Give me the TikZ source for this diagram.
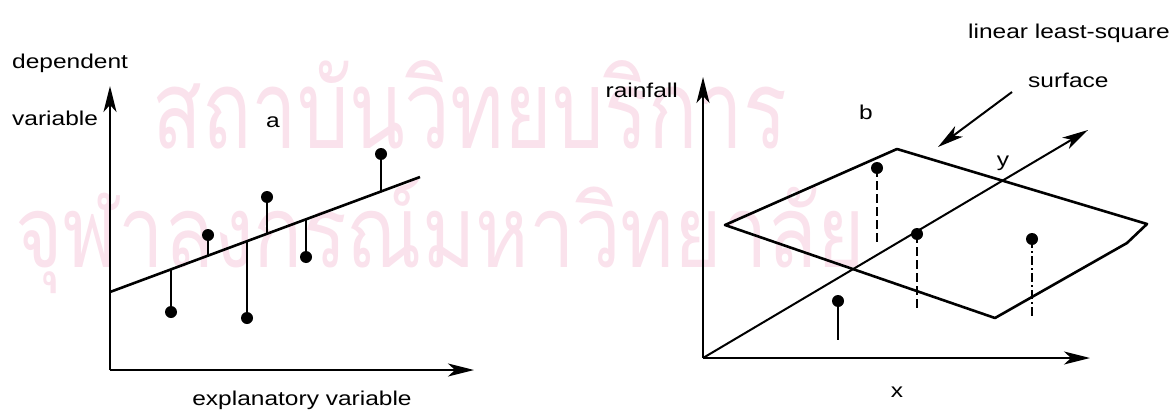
\documentclass[tikz,border=0pt]{standalone}
\usepackage{fontspec}
\setmainfont{Liberation Sans}
\newfontfamily\thaifont[Script=Thai]{Loma}
\usetikzlibrary{arrows.meta,calc}
\definecolor{wmpink}{RGB}{250,226,236}
\newcommand{\wide}[1]{\scalebox{1.225}[1]{#1}}
\begin{document}
\begin{tikzpicture}[x=1pt,y=-1pt,
  lbl/.style={inner sep=0pt, font=\fontsize{20}{24}\selectfont},
  dot/.style={circle,fill=black,inner sep=0pt,minimum size=12pt},
  axis/.style={line width=2pt,-{Stealth[length=26pt,width=13pt,inset=7pt]}},
  fitline/.style={line width=2.6pt},
  stem/.style={line width=1.8pt},
  dstem/.style={line width=1.8pt,dash pattern=on 9pt off 4pt},
  ddstem/.style={line width=1.8pt,dash pattern=on 9pt off 3pt on 2pt off 3pt},
  wm/.style={text=wmpink, inner sep=0pt, font=\thaifont\fontsize{100}{120}\selectfont}
]
\useasboundingbox (0,0) rectangle (1172,412);
% watermark
\node[wm, anchor=base west] (wm1) at (152,148) {\resizebox{635pt}{88pt}{สถาบันวิทยบริการ}};
\node[wm, anchor=base west] (wm2) at (15,267) {\resizebox{850pt}{88pt}{จุฬาลงกรณ์มหาวิทยาลัย}};

% ---------- panel a ----------
\coordinate (aO) at (110,370);
\coordinate (aY) at (110,86);
\coordinate (aX) at (474,370);
\draw[axis] (aO) -- (aY);
\draw[axis] (aO) -- (aX);
\coordinate (L0) at (110,292);
\coordinate (L1) at (420,177);
\draw[fitline] (L0) -- (L1);
\foreach \i/\px/\py in {1/171/312, 2/208/235, 3/247/318, 4/267/197, 5/306/257, 6/381/154}{
  \node[dot] (d\i) at (\px,\py) {};
  \coordinate (f\i) at ($(L0)!{(\px-110)/310}!(L1)$);
  \draw[stem] (d\i.center) -- (f\i);
}
\node[lbl, anchor=base west] (tdep) at (12,68) {\wide{dependent}};
\node[lbl, anchor=base west] (tvar) at (12,125) {\wide{variable}};
\node[lbl, anchor=base] (ta) at (273,127) {\wide{a}};
\node[lbl, anchor=base] (texp) at (302,405) {\wide{explanatory variable}};

% ---------- panel b ----------
\coordinate (bO) at (703,358);
\coordinate (bY) at (703,77);
\coordinate (bX) at (1090,358);
\coordinate (bD) at (1088,130);
\draw[axis] (bO) -- (bY);
\draw[axis] (bO) -- (bX);
\draw[axis] (bO) -- (bD);
\coordinate (s1) at (725,225);
\coordinate (s2) at (897,149);
\coordinate (s3) at (1147,224);
\coordinate (s4) at (1127,243);
\coordinate (s5) at (995,318);
\draw[fitline, line join=round] (s1) -- (s2) -- (s3) -- (s4) -- (s5) -- cycle;
\node[dot] (q1) at (877,168) {};
\node[dot] (q2) at (917,234) {};
\node[dot] (q3) at (1032,239) {};
\node[dot] (q4) at (838,301) {};
\coordinate (e1) at (877,245);
\coordinate (e2) at (917,310);
\coordinate (e3) at (1032,317);
\coordinate (e4) at (838,340);
\draw[dstem] (q1.center) -- (e1);
\draw[dstem] (q2.center) -- (e2);
\draw[ddstem] (q3.center) -- (e3);
\draw[stem] (q4.center) -- (e4);
\coordinate (sa) at (1012,92);
\coordinate (sb) at (938,147);
\draw[axis] (sa) -- (sb);
\node[lbl, anchor=base east] (train) at (678,97) {\wide{rainfall}};
\node[lbl, anchor=base] (tb) at (866,119) {\wide{b}};
\node[lbl, anchor=base west] (tsurf) at (1028,88) {\wide{surface}};
\node[lbl, anchor=base] (ty) at (1003,166) {\wide{y}};
\node[lbl, anchor=base] (tx) at (897,397) {\wide{x}};
\node[lbl, anchor=base west] (tlin) at (968,38) {\wide{linear least-square}};
\end{tikzpicture}
\end{document}
